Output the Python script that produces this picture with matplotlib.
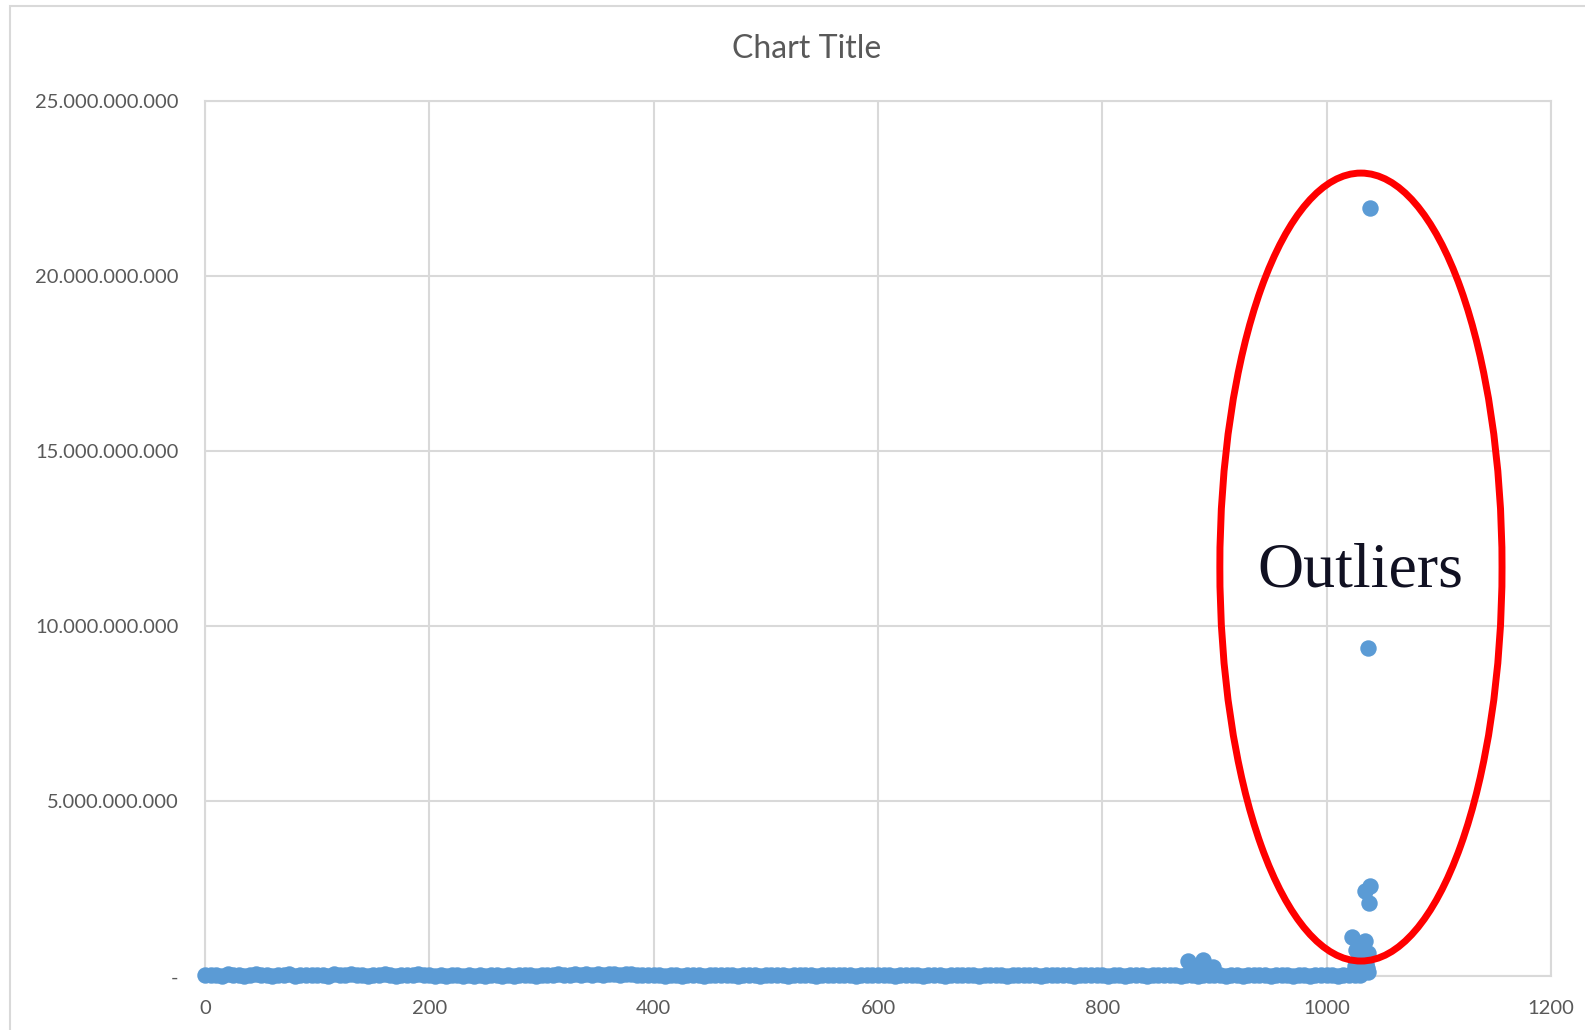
import numpy as np
import matplotlib
matplotlib.use("Agg")
import matplotlib.pyplot as plt
from matplotlib.patches import Ellipse, Rectangle
from matplotlib.ticker import FuncFormatter, MultipleLocator

# baseline values (millions), one per 5 rows
base_mil = [
    45, 30, 55, 20, 60, 35, 50, 25, 40, 65, 30, 45, 20, 55, 35, 60, 25, 50, 40, 30,
    55, 45, 20, 60, 35, 50, 65, 30, 45, 25, 55, 40, 60, 35, 20, 50, 45, 30, 60, 40,
    35, 25, 50, 20, 40, 30, 15, 45, 25, 35, 20, 40, 30, 25, 45, 20, 35, 30, 40, 25,
    50, 35, 45, 60, 40, 55, 70, 45, 60, 50, 75, 55, 65, 80, 50, 70, 60, 45, 55, 40,
    30, 45, 25, 40, 35, 20, 45, 30, 50, 25, 40, 35, 55, 30, 45, 20, 40, 50, 35, 25,
    45, 30, 55, 40, 20, 35, 50, 30, 45, 25, 40, 55, 35, 30, 45, 50, 25, 40, 35, 45,
    50, 35, 45, 25, 40, 55, 30, 45, 20, 40, 35, 50, 25, 45, 30, 40, 55, 35, 25, 45,
    30, 50, 40, 20, 45, 35, 55, 30, 40, 25, 45, 50, 35, 30, 40, 20, 45, 35, 50, 30,
    40, 25, 45, 35, 20, 50, 30, 40, 25, 45, 35, 55, 30, 40, 25, 45, 35, 20, 40, 50,
    30, 45, 25, 35, 40, 20, 45, 30, 35, 50, 25, 40, 30, 45, 20, 35, 40, 25, 50, 30,
    45, 35, 20, 40, 30, 55, 45,
]
base_x = np.arange(len(base_mil)) * 5

# raised points near row 880-900 and the outliers at the end
high_x = [876, 883, 890, 894, 899,
          1023, 1025, 1026, 1028, 1030, 1031, 1033, 1034, 1034, 1035, 1036, 1037,
          1037, 1038, 1039, 1039, 1037]
high_y = [0.43e9, 0.30e9, 0.46e9, 0.17e9, 0.26e9,
          1.12e9, 0.30e9, 0.75e9, 0.47e9, 0.20e9, 0.55e9, 0.15e9, 1.02e9, 2.45e9,
          0.35e9, 0.25e9, 0.66e9, 9.39e9, 2.11e9, 2.58e9, 21.95e9, 0.12e9]

blue = "#5B9BD5"
grey_txt = "#595959"
grid_c = "#D9D9D9"

plt.rcParams["font.family"] = ["Lato", "DejaVu Sans"]

fig = plt.figure(figsize=(15.85, 10.3), dpi=100)
ax = fig.add_axes([0.1294, 0.052, 0.8491, 0.850])

ax.scatter(base_x, np.array(base_mil) * 1e6, s=140, color=blue, linewidths=0, zorder=3, clip_on=False)
ax.scatter(high_x, high_y, s=140, color=blue, linewidths=0, zorder=3, clip_on=False)

ax.set_xlim(0, 1200)
ax.set_ylim(0, 25e9)
ax.xaxis.set_major_locator(MultipleLocator(200))
ax.yaxis.set_major_locator(MultipleLocator(5e9))
ax.yaxis.set_major_formatter(FuncFormatter(
    lambda v, p: "-" if v == 0 else f"{v:,.0f}".replace(",", ".")))
ax.grid(True, color=grid_c, linewidth=1.5)
ax.set_axisbelow(True)
for sp in ax.spines.values():
    sp.set_color(grid_c)
    sp.set_linewidth(1.5)
ax.tick_params(length=0, labelsize=14.5, labelcolor=grey_txt)
ax.tick_params(axis="x", pad=17)
ax.tick_params(axis="y", pad=19)

fig.text(0.509, 0.952, "Chart Title", ha="center", va="center", fontsize=23, color=grey_txt)

ell = Ellipse((1030.6, 11.69e9), 251.6, 22.5e9, fill=False, edgecolor="red", linewidth=5, zorder=4)
ax.add_patch(ell)
ax.text(1030, 11.55e9, "Outliers", ha="center", va="center", fontsize=46,
        family="Liberation Serif", color="#111122", zorder=5)

# outer chart border
fig.add_artist(Rectangle((0.0065, -0.05), 1.2, 1.044, transform=fig.transFigure,
                         fill=False, edgecolor=grid_c, linewidth=1.5))

fig.savefig("out.png", dpi=100)
